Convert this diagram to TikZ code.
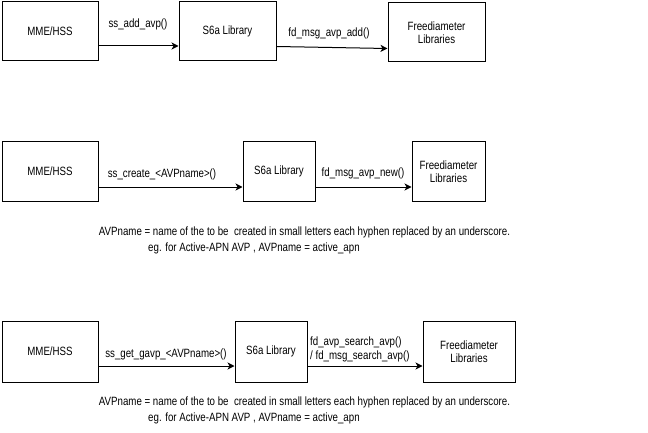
\documentclass[tikz,border=0pt]{standalone}
\usepackage{fontspec}
\setmainfont[FakeStretch=0.81]{Liberation Sans}
\usetikzlibrary{arrows.meta,calc}

\begin{document}
\begin{tikzpicture}[x=1pt,y=-1pt,
  block/.style={draw, line width=1pt, inner sep=0pt, align=center},
  every node/.append style={font=\fontsize{12}{13.5}\selectfont}]
\useasboundingbox (0,0) rectangle (648,433);
% add an avp
\node[block, minimum width=96pt, minimum height=59pt] (M1) at (50,31.5) {MME/HSS};
\node[block, minimum width=97pt, minimum height=59pt] (S1) at (227.5,31.5) {S6a Library};
\node[block, minimum width=97pt, minimum height=59pt] (F1) at (436.5,32.5) {Freediameter\\Libraries};

\draw[->,>={Stealth[length=7pt,width=7pt,inset=2pt]},line width=1pt] ([yshift=-14.5pt]M1.east) -- ([yshift=-14.5pt]M1.east -| S1.west);
\draw[->,>={Stealth[length=7pt,width=7pt,inset=2pt]},line width=1pt] ([yshift=-15pt]S1.east) -- ([yshift=-16pt]F1.west);
\node (L1) at (138,24) {ss\_add\_avp()};
\node (L2) at (329,33) {fd\_msg\_avp\_add()};

% create an avp
\node[block, minimum width=96pt, minimum height=59pt] (M2) at (50,171.5) {MME/HSS};
\node[block, minimum width=72pt, minimum height=59pt] (S2) at (279,171.5) {S6a Library};
\node[block, minimum width=73pt, minimum height=59pt] (F2) at (448.5,171.5) {Freediameter\\Libraries};

\draw[->,>={Stealth[length=7pt,width=7pt,inset=2pt]},line width=1pt] ([yshift=-15.5pt]M2.east) -- ([yshift=-15.5pt]M2.east -| S2.west);
\draw[->,>={Stealth[length=7pt,width=7pt,inset=2pt]},line width=1pt] ([yshift=-15.5pt]S2.east) -- ([yshift=-15.5pt]S2.east -| F2.west);
\node (L3) at (162,174) {ss\_create\_<AVPname>()};
\node (L4) at (363,173) {fd\_msg\_avp\_new()};

\node (N1) at (304.5,232) {AVPname = name of the to be \ created in small letters each hyphen replaced by an underscore.};
\node[anchor=west, inner sep=0pt] (N2) at (148,248) {eg. for Active-APN AVP , AVPname = active\_apn};

% get an avp
\node[block, minimum width=96pt, minimum height=61pt] (M3) at (50,351.5) {MME/HSS};
\node[block, minimum width=72pt, minimum height=61pt] (S3) at (271,351.5) {S6a Library};
\node[block, minimum width=92pt, minimum height=61pt] (F3) at (469,351.5) {Freediameter\\Libraries};

\draw[->,>={Stealth[length=7pt,width=7pt,inset=2pt]},line width=1pt] ([yshift=-14.5pt]M3.east) -- ([yshift=-14.5pt]M3.east -| S3.west);
\draw[->,>={Stealth[length=7pt,width=7pt,inset=2pt]},line width=1pt] ([yshift=-14.5pt]S3.east) -- ([yshift=-14.5pt]S3.east -| F3.west);
\node (L5) at (166,354) {ss\_get\_gavp\_<AVPname>()};
\node[anchor=west, align=left, inner sep=0pt] (L6) at (310,349.5) {fd\_avp\_search\_avp()\\/ fd\_msg\_search\_avp()};

\node (N3) at (304.5,402) {AVPname = name of the to be \ created in small letters each hyphen replaced by an underscore.};
\node[anchor=west, inner sep=0pt] (N4) at (148,418) {eg. for Active-APN AVP , AVPname = active\_apn};
\end{tikzpicture}
\end{document}
